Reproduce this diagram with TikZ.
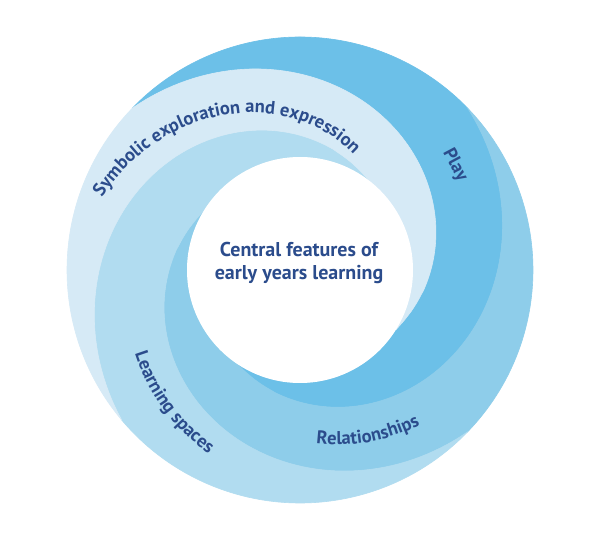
\documentclass[tikz,border=0pt]{standalone}
\usepackage{fontspec}
\setmainfont{PT Sans}
\usetikzlibrary{decorations.text}
\definecolor{playc}{HTML}{6CC0E8}
\definecolor{relc}{HTML}{8ECDEA}
\definecolor{lsc}{HTML}{B1DCF0}
\definecolor{symc}{HTML}{D6EAF6}
\definecolor{txt}{HTML}{2B4C8C}
\begin{document}
\begin{tikzpicture}[x=1pt,y=1pt,
  declare function={sp(\a,\t)=113+120*pow(max(1-(\a-\t)/168,0.00001),1.15);},
  bandfill/.style={fill=#1,draw=#1,line width=0.6pt},
  centrelbl/.style={font=\bfseries\fontsize{20}{23.5}\selectfont,text=txt,align=center},
  wordlbl/.style={font=\bfseries\fontsize{18.5}{18.5}\selectfont,text=txt}]
\useasboundingbox (0,0) rectangle (614,546);
\fill[white] (0,0) rectangle (614,546);
\begin{scope}[shift={(300,276)}]
% Play band
\path[bandfill=playc] (136:233) arc[start angle=136,end angle=44,radius=233]
  -- plot[domain=44:-124,samples=90,variable=\t] (\t:{sp(44,\t)})
  arc[start angle=-124,end angle=-32,radius=113]
  -- plot[domain=-32:136,samples=90,variable=\t] (\t:{sp(136,\t)}) -- cycle;
% Relationships band
\path[bandfill=relc] (44:233) arc[start angle=44,end angle=-44,radius=233]
  -- plot[domain=-44:-212,samples=90,variable=\t] (\t:{sp(-44,\t)})
  arc[start angle=-212,end angle=-124,radius=113]
  -- plot[domain=-124:44,samples=90,variable=\t] (\t:{sp(44,\t)}) -- cycle;
% Learning spaces band
\path[bandfill=lsc] (-44:233) arc[start angle=-44,end angle=-140,radius=233]
  -- plot[domain=-140:-308,samples=90,variable=\t] (\t:{sp(-140,\t)})
  arc[start angle=-308,end angle=-212,radius=113]
  -- plot[domain=-212:-44,samples=90,variable=\t] (\t:{sp(-44,\t)}) -- cycle;
% Symbolic band
\path[bandfill=symc] (-140:233) arc[start angle=-140,end angle=-224,radius=233]
  -- plot[domain=-224:-392,samples=90,variable=\t] (\t:{sp(-224,\t)})
  arc[start angle=-392,end angle=-308,radius=113]
  -- plot[domain=-308:-140,samples=90,variable=\t] (\t:{sp(-140,\t)}) -- cycle;
% centre
\fill[white] (0,0) circle[radius=113];
\node[centrelbl] (centre) at (-1,7) {Central features of\\early years learning};
% curved labels
\path[decorate,decoration={text along path,text align=center,
  text={|\bfseries\fontsize{18.5}{18.5}\selectfont\color{txt}|Symbolic exploration and expression}}]
  plot[domain=172:44,samples=80,variable=\t] (\t:{129+0.884*(\t-67)});
\path[decorate,decoration={text along path,text align=center,
  text={|\bfseries\fontsize{18.5}{18.5}\selectfont\color{txt}|Relationships}}]
  plot[domain=-104:-36,samples=60,variable=\t] (\t:{173.5+0.67*(\t+85.7)});
\path[decorate,decoration={text along path,text align=center,
  text={|\bfseries\fontsize{18.5}{18.5}\selectfont\color{txt}|Learning spaces}}]
  plot[domain=-171:-101,samples=60,variable=\t] (\t:{185+0.55*(\t+153)});
\node[wordlbl,rotate=-62] (play) at (34:187) {Play};
\end{scope}
\end{tikzpicture}
\end{document}
